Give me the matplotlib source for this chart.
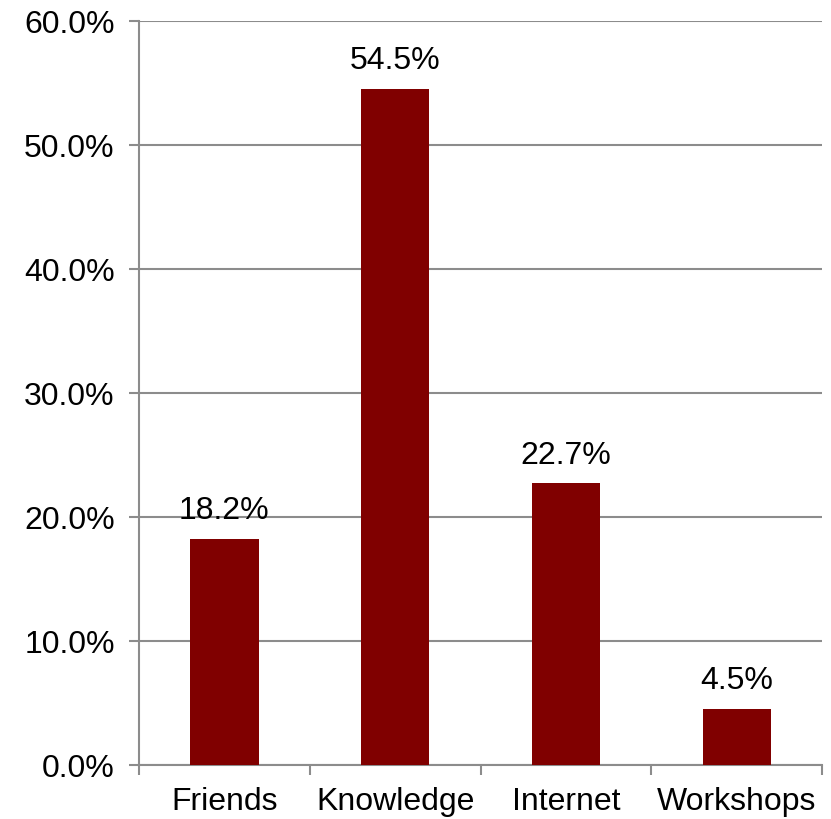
import matplotlib.pyplot as plt
from matplotlib.ticker import FuncFormatter, FixedLocator

categories = ['Friends', 'Knowledge', 'Internet', 'Workshops']
shares = [18.2, 54.5, 22.7, 4.5]

plt.rcParams['font.family'] = ['Liberation Sans', 'DejaVu Sans']
grey = '#8c8c8c'
fs = 23

fig = plt.figure(figsize=(8.31, 8.20), dpi=100)
ax = fig.add_axes([0.1673, 0.0659, 0.8219, 0.9073])

x = list(range(len(categories)))
bars = ax.bar(x, shares, width=0.4, color='#800000', zorder=3)

for b, v in zip(bars, shares):
    ax.annotate(f'{v:.1f}%', (b.get_x() + b.get_width() / 2, v),
                xytext=(0, 10), textcoords='offset points',
                ha='center', va='bottom', fontsize=fs, zorder=4)

ax.set_xlim(-0.5, len(categories) - 0.5)
ax.set_ylim(0, 60)
ax.set_yticks(range(0, 61, 10))
ax.yaxis.set_major_formatter(FuncFormatter(lambda v, p: f'{v:.1f}%'))
ax.grid(axis='y', color=grey, linewidth=1.5, zorder=1)

ax.set_xticks(x)
ax.set_xticklabels(categories, fontsize=fs)
ax.xaxis.set_minor_locator(FixedLocator([i - 0.5 for i in range(len(categories) + 1)]))
ax.tick_params(axis='x', which='major', length=0, pad=15)
ax.tick_params(axis='x', which='minor', length=7, width=1.5, color=grey)
ax.tick_params(axis='y', length=7.5, width=1.5, color=grey, labelsize=fs, pad=10)

for s in ['top', 'right']:
    ax.spines[s].set_visible(False)
for s in ['left', 'bottom']:
    ax.spines[s].set_color(grey)
    ax.spines[s].set_linewidth(1.5)

fig.savefig('out.png', dpi=100)
